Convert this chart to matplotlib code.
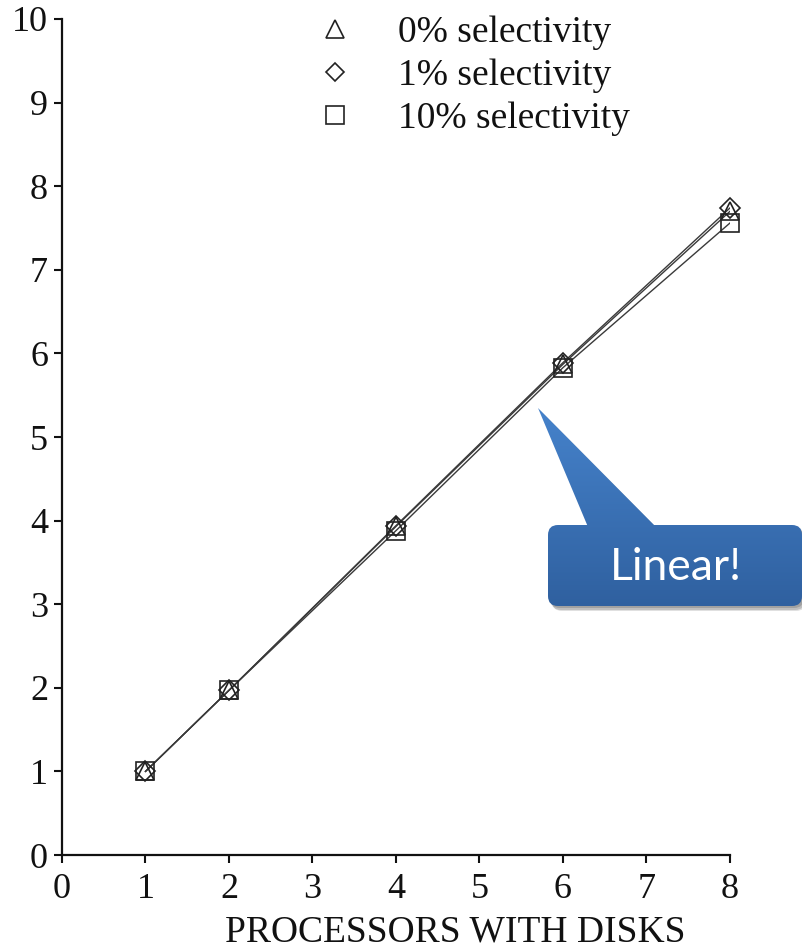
import numpy as np
import matplotlib
matplotlib.use("Agg")
import matplotlib.pyplot as plt
from matplotlib.patches import FancyBboxPatch, Polygon
from matplotlib.colors import LinearSegmentedColormap

# speedup vs. number of processors with disks
processors = [1, 2, 4, 6, 8]
sel_0 = [1.0, 1.97, 3.93, 5.87, 7.70]
sel_1 = [1.0, 1.97, 3.94, 5.89, 7.74]
sel_10 = [1.0, 1.97, 3.88, 5.83, 7.56]
series_labels = ["0% selectivity", "1% selectivity", "10% selectivity"]
series_markers = ["^", "D", "s"]

plt.rcParams["font.family"] = ["Liberation Serif", "DejaVu Serif"]

fig = plt.figure(figsize=(8.03, 9.5), dpi=100)
ax = fig.add_axes([62 / 803, 95 / 950, 668 / 803, 836 / 950])

marker_sizes = {"^": 13, "D": 10, "s": 13}
for ys, lab, mk in zip([sel_0, sel_1, sel_10], series_labels, series_markers):
    ax.plot(processors, ys, "-", color="#3a3a3a", lw=1.0, zorder=2)
    ax.plot(processors, ys, mk, ls="none", ms=marker_sizes[mk], clip_on=False,
            mfc="none", mec="#222222", mew=1.2, label=lab, zorder=3)

ax.set_xlim(0, 8)
ax.set_ylim(0, 10)
ax.set_xticks(range(0, 9))
ax.set_yticks(range(0, 11))
for s in ["top", "right"]:
    ax.spines[s].set_visible(False)
for s in ["left", "bottom"]:
    ax.spines[s].set_linewidth(1.6)
    ax.spines[s].set_color("#111111")
ax.tick_params(direction="out", length=6, width=1.5, pad=4,
               labelsize=26, colors="#111111")
ax.tick_params(axis="x", pad=7)

leg = ax.legend(loc="upper left", bbox_to_anchor=(316 / 803, 1 - 16 / 950),
                bbox_transform=fig.transFigure, frameon=False, fontsize=27,
                borderpad=0, borderaxespad=0, handlelength=1.0,
                handletextpad=1.2, labelspacing=0.22, markerscale=0.95)
for t in leg.get_texts():
    t.set_color("#111111")

fig.text(455 / 803, 1 - 932 / 950, "PROCESSORS WITH DISKS", ha="center",
         va="center", fontsize=27, color="#111111")

# callout bubble drawn in pixel coordinates on an overlay
ov = fig.add_axes([0, 0, 1, 1], zorder=10)
ov.set_xlim(0, 803)
ov.set_ylim(950, 0)
ov.axis("off")

box = dict(x=548, y=525, w=254, h=81)
tri = [(538, 408), (588, 527), (656, 527)]

# soft shadow
for dx, dy, a in [(4, 5, 0.12), (3, 4, 0.15), (2, 2, 0.15)]:
    ov.add_patch(FancyBboxPatch((box["x"] + dx, box["y"] + dy), box["w"], box["h"],
                                boxstyle="round,pad=0,rounding_size=10",
                                fc="#000000", ec="none", alpha=a))
    ov.add_patch(Polygon([(px + dx, py + dy) for px, py in tri],
                         fc="#000000", ec="none", alpha=a))

blue = LinearSegmentedColormap.from_list("callout", ["#4683cc", "#2f609f"])
grad = np.linspace(0, 1, 256).reshape(-1, 1)
body = FancyBboxPatch((box["x"], box["y"]), box["w"], box["h"],
                      boxstyle="round,pad=0,rounding_size=10",
                      fc="none", ec="none")
point = Polygon(tri, fc="none", ec="none")
ov.add_patch(body)
ov.add_patch(point)
for clip in (body, point):
    im = ov.imshow(grad, cmap=blue, aspect="auto", interpolation="bilinear",
                   extent=(538, 803, 608, 405), zorder=5)
    im.set_clip_path(clip)
ov.set_xlim(0, 803)
ov.set_ylim(950, 0)

ov.text(676, 567, "Linear!", ha="center", va="center", color="white",
        fontsize=32, family=["Lato", "DejaVu Sans"], zorder=6)

fig.savefig("out.png", dpi=100)
